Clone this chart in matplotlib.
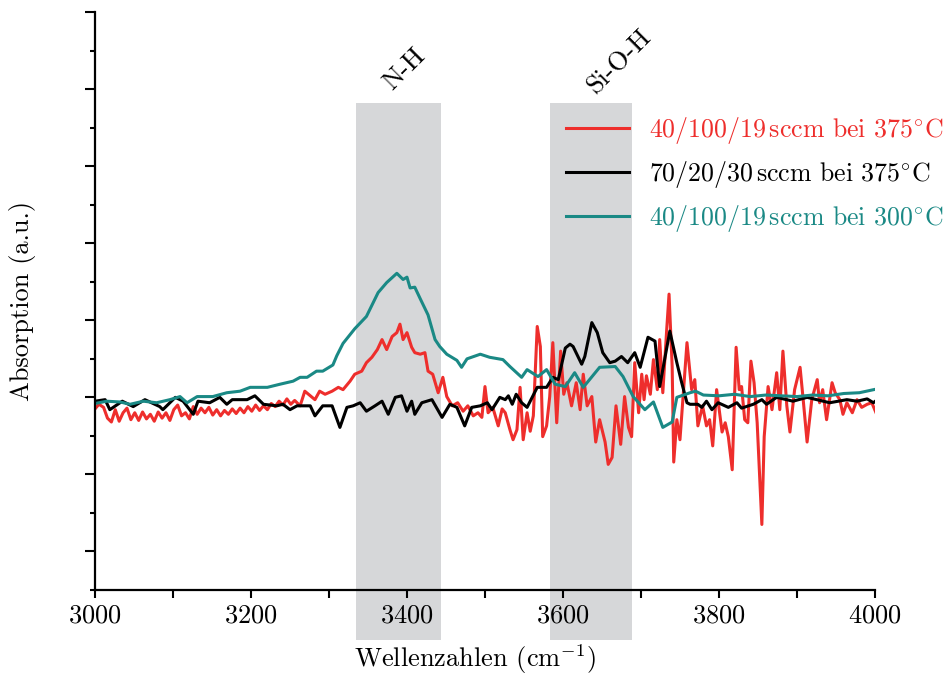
import numpy as np
import matplotlib
matplotlib.use('Agg')
import matplotlib.pyplot as plt
from matplotlib.ticker import MultipleLocator

plt.rcParams['font.family'] = 'cmr10'
plt.rcParams['mathtext.fontset'] = 'cm'
plt.rcParams['axes.formatter.use_mathtext'] = True

# 40/100/19 sccm at 375 C (red)
x_red = [3000, 3005, 3011, 3016, 3021, 3026, 3031, 3036, 3041, 3046, 3051, 3056, 3061, 3066,
         3071, 3076, 3081, 3086, 3091, 3096, 3101, 3106, 3111, 3116, 3121, 3126, 3131, 3136,
         3141, 3146, 3151, 3156, 3161, 3166, 3171, 3176, 3181, 3186, 3191, 3196, 3201, 3206,
         3211, 3216, 3221, 3226, 3231, 3236, 3241, 3246, 3251, 3256, 3263, 3269, 3276, 3282,
         3288, 3295, 3304, 3312, 3318, 3327, 3333, 3342, 3348, 3355, 3362, 3368, 3374, 3381,
         3387, 3391, 3395, 3400, 3406, 3410, 3417, 3423, 3427, 3433, 3440, 3446, 3451, 3458,
         3465, 3472, 3478, 3485, 3491, 3496, 3500, 3504, 3510, 3517, 3522, 3526, 3532, 3536,
         3541, 3545, 3549, 3554, 3558, 3562, 3567, 3571, 3574, 3579, 3583, 3587, 3592, 3597,
         3601, 3605, 3611, 3617, 3622, 3626, 3631, 3637, 3642, 3647, 3654, 3658, 3663, 3668,
         3674, 3679, 3684, 3688, 3692, 3697, 3701, 3704, 3707, 3712, 3716, 3721, 3724, 3728,
         3733, 3736, 3740, 3742, 3746, 3750, 3754, 3759, 3765, 3769, 3773, 3779, 3784, 3788,
         3792, 3797, 3804, 3808, 3812, 3817, 3822, 3826, 3829, 3833, 3837, 3841, 3845, 3849,
         3855, 3858, 3863, 3868, 3874, 3878, 3882, 3887, 3891, 3897, 3904, 3908, 3913, 3919,
         3926, 3929, 3933, 3938, 3945, 3949, 3955, 3959, 3964, 3971, 3977, 3983, 3990, 3996,
         4003]
y_red = [-0.15, -0.09, -0.13, -0.27, -0.32, -0.16, -0.31, -0.20, -0.14, -0.29, -0.20, -0.30,
         -0.19, -0.28, -0.22, -0.31, -0.19, -0.27, -0.20, -0.30, -0.16, -0.10, -0.24, -0.20,
         -0.28, -0.12, -0.22, -0.14, -0.20, -0.13, -0.23, -0.16, -0.24, -0.17, -0.22, -0.15,
         -0.21, -0.14, -0.20, -0.12, -0.18, -0.10, -0.17, -0.11, -0.16, -0.08, -0.12, -0.05,
         -0.10, -0.02, -0.09, -0.04, -0.11, 0.08, 0.02, -0.03, 0.08, 0.04, 0.08, 0.13, 0.10,
         0.21, 0.30, 0.34, 0.45, 0.52, 0.62, 0.75, 0.62, 0.79, 0.84, 0.95, 0.75, 0.84, 0.65,
         0.58, 0.56, 0.58, 0.34, 0.30, 0.06, 0.26, 0.01, -0.11, -0.07, -0.18, -0.11, -0.24,
         -0.20, -0.26, 0.14, -0.20, -0.13, -0.37, -0.15, -0.20, -0.42, -0.55, -0.42, 0.13,
         -0.55, -0.20, -0.44, -0.24, 0.92, 0.66, -0.51, -0.37, 0.01, 0.71, -0.33, 0.60, 0.04,
         0.19, -0.11, 0.19, -0.16, 0.30, -0.11, 0.01, -0.58, -0.29, -0.58, -0.87, -0.78, -0.11,
         -0.61, 0.01, -0.39, -0.51, 0.45, -0.20, 0.30, -0.03, 0.28, 0.04, 0.49, 0.10, 0.75,
         0.06, 0.88, 1.34, 0.40, -0.84, -0.29, -0.55, 0.01, 0.71, 0.10, 0.23, -0.37, -0.11,
         -0.37, -0.29, -0.63, 0.10, -0.45, -0.33, -0.51, -0.94, 0.65, 0.10, 0.14, -0.29, -0.33,
         0.47, 0.19, -0.33, -1.65, -0.51, 0.14, -0.16, 0.32, -0.16, 0.60, -0.11, -0.45, 0.10,
         0.39, -0.03, -0.58, -0.03, 0.23, -0.07, 0.10, -0.29, 0.19, 0.06, -0.03, -0.22, -0.07,
         -0.20, -0.03, -0.13, -0.09, -0.07, -0.24]

# 70/20/30 sccm at 375 C (black)
x_black = [3000, 3013, 3019, 3035, 3049, 3064, 3083, 3087, 3103, 3113, 3126, 3132, 3147, 3160,
           3169, 3176, 3195, 3205, 3216, 3233, 3241, 3250, 3259, 3276, 3282, 3292, 3304, 3314,
           3323, 3331, 3340, 3348, 3359, 3368, 3376, 3385, 3393, 3400, 3406, 3410, 3419, 3432,
           3445, 3455, 3464, 3474, 3483, 3494, 3503, 3509, 3519, 3526, 3530, 3535, 3540, 3547,
           3554, 3567, 3579, 3587, 3594, 3603, 3609, 3613, 3624, 3628, 3637, 3644, 3651, 3660,
           3667, 3675, 3683, 3692, 3699, 3709, 3718, 3724, 3737, 3746, 3752, 3759, 3763, 3773,
           3778, 3784, 3791, 3799, 3812, 3823, 3829, 3844, 3855, 3861, 3874, 3895, 3913, 3942,
           3964, 3977, 3990, 3998, 4003]
y_black = [-0.05, -0.03, -0.16, -0.05, -0.12, -0.03, -0.12, -0.16, 0.00, -0.05, -0.22, -0.05,
           -0.07, 0.00, -0.09, -0.03, -0.03, 0.02, -0.09, -0.11, -0.09, -0.16, -0.11, -0.11,
           -0.24, -0.11, -0.11, -0.39, -0.13, -0.11, -0.07, -0.18, -0.11, -0.05, -0.22, 0.00,
           0.02, -0.18, -0.05, -0.22, -0.07, -0.03, -0.26, -0.09, -0.13, -0.37, -0.13, -0.11,
           -0.07, -0.16, 0.00, -0.03, 0.02, -0.09, 0.04, -0.07, -0.13, 0.13, 0.13, 0.26, 0.23,
           0.64, 0.69, 0.66, 0.43, 0.53, 0.97, 0.84, 0.58, 0.45, 0.47, 0.53, 0.45, 0.58, 0.39,
           0.78, 0.73, 0.14, 0.86, 0.45, 0.20, -0.07, -0.09, -0.09, -0.13, -0.05, -0.16, -0.07,
           -0.13, -0.07, -0.14, -0.09, -0.03, -0.09, 0.00, -0.05, 0.00, -0.07, -0.03, -0.05,
           -0.02, -0.07, -0.03]

# 40/100/19 sccm at 300 C (teal)
x_teal = [3000, 3015, 3032, 3045, 3062, 3079, 3096, 3109, 3118, 3131, 3151, 3169, 3186, 3199,
          3221, 3237, 3254, 3263, 3272, 3284, 3292, 3305, 3310, 3318, 3333, 3348, 3363, 3374,
          3387, 3395, 3400, 3404, 3410, 3417, 3427, 3436, 3442, 3451, 3464, 3470, 3477, 3494,
          3506, 3523, 3532, 3547, 3554, 3568, 3579, 3590, 3603, 3615, 3626, 3647, 3667, 3677,
          3690, 3705, 3716, 3728, 3740, 3746, 3763, 3770, 3780, 3800, 3820, 3840, 3860, 3880,
          3900, 3920, 3940, 3960, 3980, 4003]
y_teal = [-0.08, -0.05, -0.06, -0.09, -0.05, -0.07, -0.03, 0.01, -0.07, 0.01, 0.01, 0.06, 0.08,
          0.13, 0.13, 0.17, 0.21, 0.26, 0.26, 0.34, 0.34, 0.42, 0.54, 0.70, 0.89, 1.05, 1.36,
          1.49, 1.61, 1.53, 1.56, 1.42, 1.43, 1.28, 1.07, 0.75, 0.66, 0.56, 0.48, 0.39, 0.50,
          0.56, 0.52, 0.49, 0.40, 0.26, 0.36, 0.27, 0.36, 0.17, 0.14, 0.32, 0.13, 0.39, 0.40,
          0.27, 0.01, -0.16, -0.06, -0.39, -0.32, 0.00, 0.06, 0.08, 0.03, 0.02, 0.04, 0.01,
          0.03, 0.02, 0.01, 0.03, 0.02, 0.05, 0.06, 0.11]

labels = [r'40/100/19$\,$sccm bei 375$^{\circ}$C',
          r'70/20/30$\,$sccm bei 375$^{\circ}$C',
          r'40/100/19$\,$sccm bei 300$^{\circ}$C']
colors = ['#ee2e2c', '#000000', '#1a8985']

bands = [(3335, 3443), (3583, 3689)]
band_names = ['N-H', 'Si-O-H']
band_label_pos = [(3397, 4.26), (3673, 4.36)]

fig = plt.figure(figsize=(9.5, 6.75), dpi=100)
ax = fig.add_axes([0.1, 0.126, 0.821, 0.856])

for (b0, b1) in bands:
    ax.axvspan(b0, b1, ymin=-0.0865, ymax=0.8426, color='#d6d7d9', lw=0,
               zorder=0, clip_on=False)
for name, (tx, ty) in zip(band_names, band_label_pos):
    ax.text(tx, ty, name, rotation=45, ha='center', va='center', fontsize=19)

ax.plot(x_red, y_red, color=colors[0], lw=2.2, label=labels[0])
ax.plot(x_black, y_black, color=colors[1], lw=2.2, label=labels[1])
ax.plot(x_teal, y_teal, color=colors[2], lw=2.2, label=labels[2])

ax.set_xlim(3000, 4000)
ax.set_ylim(-2.5, 5)
ax.xaxis.set_major_locator(MultipleLocator(200))
ax.xaxis.set_minor_locator(MultipleLocator(100))
ax.yaxis.set_major_locator(MultipleLocator(1))
ax.yaxis.set_minor_locator(MultipleLocator(0.5))
ax.set_yticklabels([])
ax.tick_params(axis='x', which='major', length=6, width=1.5, labelsize=19, pad=4)
ax.tick_params(axis='x', which='minor', length=6, width=1.5)
ax.tick_params(axis='y', which='major', length=7.5, width=1.5)
ax.tick_params(axis='y', which='minor', length=3.5, width=1.5)
for s in ['top', 'right']:
    ax.spines[s].set_visible(False)
for s in ['left', 'bottom']:
    ax.spines[s].set_linewidth(1.6)

ax.set_xlabel(r'Wellenzahlen (cm$^{-1}$)', fontsize=19)
ax.set_ylabel('Absorption (a.u.)', fontsize=19)
ax.xaxis.set_label_coords(0.487, -0.09)
ax.yaxis.set_label_coords(-0.076, 0.5)

ax.legend(loc='upper left', bbox_to_anchor=(0.596, 0.83), bbox_transform=fig.transFigure,
          frameon=False, fontsize=18.6, handlelength=2.45, handletextpad=0.75,
          labelspacing=0.5, borderpad=0, borderaxespad=0, labelcolor='linecolor')

fig.savefig('out.png', dpi=100)
